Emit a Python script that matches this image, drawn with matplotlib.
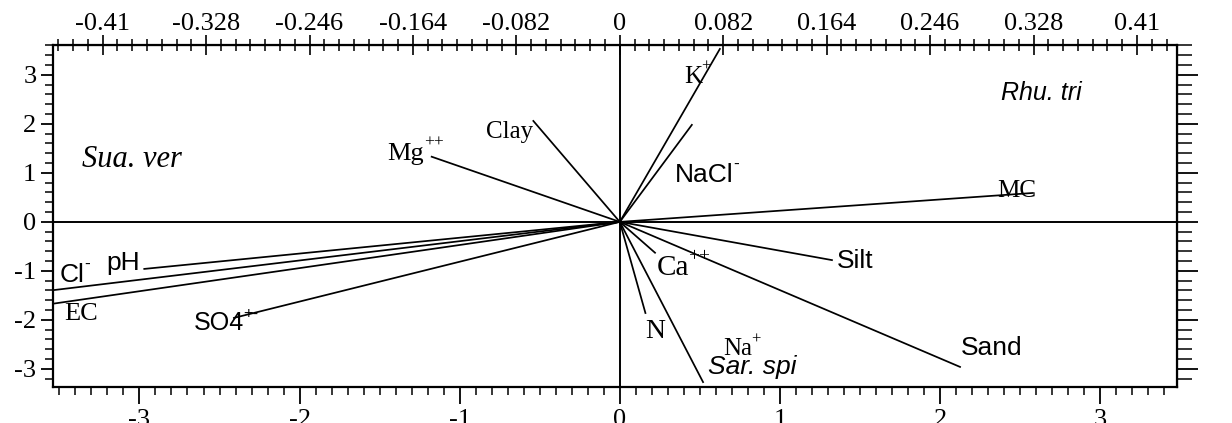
import numpy as np
import matplotlib.pyplot as plt
from matplotlib.ticker import MultipleLocator

plt.rcParams['axes.unicode_minus'] = False
SERIF = 'Liberation Serif'
SANS = 'Liberation Sans'

# environmental vectors (axis 1, axis 2 scores)
env_names = ['K', 'NaCl', 'Clay', 'Mg', 'MC', 'Silt', 'Sand', 'Ca', 'N', 'Na', 'pH', 'Cl', 'EC', 'SO4']
env_sup = ['+', '-', '', '++', '', '', '', '++', '', '+', '', '-', '', '+-']
env_x = [0.625, 0.45, -0.54, -1.175, 2.58, 1.325, 2.125, 0.22, 0.16, 0.52, -2.97, -3.53, -3.54, -2.41]
env_y = [3.53, 1.98, 2.06, 1.33, 0.59, -0.78, -2.96, -0.63, -1.86, -3.27, -0.96, -1.39, -1.67, -1.96]

# species
species = ['Sua. ver', 'Rhu. tri', 'Sar. spi']

# axis tick labels
bottom_ticks = [-3, -2, -1, 0, 1, 2, 3]
left_ticks = [-3, -2, -1, 0, 1, 2, 3]
top_ticks = [-0.41, -0.328, -0.246, -0.164, -0.082, 0, 0.082, 0.164, 0.246, 0.328, 0.41]
top_labels = ['-0.41', '-0.328', '-0.246', '-0.164', '-0.082', '0', '0.082', '0.164', '0.246', '0.328', '0.41']
right_labels = ['', '', '', '0', '', '', '']

# label placement (x, y, ha, font, size)
env_text = [(0.40, 2.84, 'left', SERIF, 18), (0.344, 0.82, 'left', SANS, 19),
            (-0.54, 1.71, 'right', SERIF, 18), (-1.45, 1.27, 'left', SERIF, 19),
            (2.36, 0.51, 'left', SERIF, 18), (1.356, -0.94, 'left', SANS, 19),
            (2.13, -2.71, 'left', SANS, 19), (0.231, -1.08, 'left', SERIF, 21),
            (0.156, -2.37, 'left', SERIF, 20), (0.644, -2.72, 'left', SERIF, 18),
            (-3.21, -0.98, 'left', SANS, 19), (-3.5, -1.22, 'left', SANS, 19),
            (-3.47, -2.0, 'left', SERIF, 19), (-2.66, -2.2, 'left', SANS, 18)]
sp_text = [(-3.36, 1.12, SERIF, 22), (2.38, 2.49, SANS, 18), (0.55, -3.1, SANS, 19)]

fig = plt.figure(figsize=(12.32, 4.23), dpi=100)
ax = fig.add_axes([53 / 1232, 1 - 387 / 423, 1124 / 1232, 342 / 423])
ax.set_xlim(-3.54, 3.48)
ax.set_ylim(-3.37, 3.61)

ax.axhline(0, color='black', lw=1.4)
ax.axvline(0, color='black', lw=1.4)
for x, y in zip(env_x, env_y):
    ax.plot([0, x], [0, y], color='black', lw=1.25)

for name, sup, (tx, ty, ha, fam, fs) in zip(env_names, env_sup, env_text):
    t = ax.text(tx, ty, name, ha=ha, va='baseline', family=fam, fontsize=fs)
    if sup:
        ax.annotate(sup, xy=(1, 0), xycoords=t, xytext=(-0.3, fs * 0.68),
                    textcoords='offset points', family=fam, fontsize=fs * 0.66,
                    va='baseline', ha='left')
for name, (tx, ty, fam, fs) in zip(species, sp_text):
    ax.text(tx, ty, name, ha='left', va='baseline', family=fam, fontsize=fs, style='italic')

for s in ax.spines.values():
    s.set_linewidth(1.6)

ax.set_xticks(bottom_ticks)
ax.set_yticks(left_ticks)
ax.xaxis.set_minor_locator(MultipleLocator(0.1))
ax.yaxis.set_minor_locator(MultipleLocator(0.2))
ax.tick_params(axis='x', which='major', direction='out', length=12, width=1.3, pad=4)
ax.tick_params(axis='x', which='minor', direction='out', length=6, width=1.1)
ax.tick_params(axis='y', which='major', direction='out', length=9, width=1.3, pad=3)
ax.tick_params(axis='y', which='minor', direction='out', length=6, width=1.1)
for lbl in ax.get_xticklabels() + ax.get_yticklabels():
    lbl.set_family(SERIF)
    lbl.set_fontsize(19)

k = 0.41 / 3.23
top = ax.secondary_xaxis('top', functions=(lambda v: v * k, lambda t: t / k))
top.set_xticks(top_ticks, labels=top_labels)
top.xaxis.set_minor_locator(MultipleLocator(0.082 / 7))
top.tick_params(which='major', direction='inout', length=14, width=1.2, pad=0)
top.tick_params(which='minor', direction='inout', length=9, width=1.1)
for lbl in top.get_xticklabels():
    lbl.set_family(SERIF)
    lbl.set_fontsize(19)

right = ax.secondary_yaxis('right')
right.set_yticks(left_ticks, labels=right_labels)
right.yaxis.set_minor_locator(MultipleLocator(0.2))
right.tick_params(which='major', direction='out', length=15, width=1.3, pad=24)
right.tick_params(which='minor', direction='out', length=11, width=1.1)
for lbl in right.get_yticklabels():
    lbl.set_family(SERIF)
    lbl.set_fontsize(20)

fig.savefig('out.png', dpi=100)
